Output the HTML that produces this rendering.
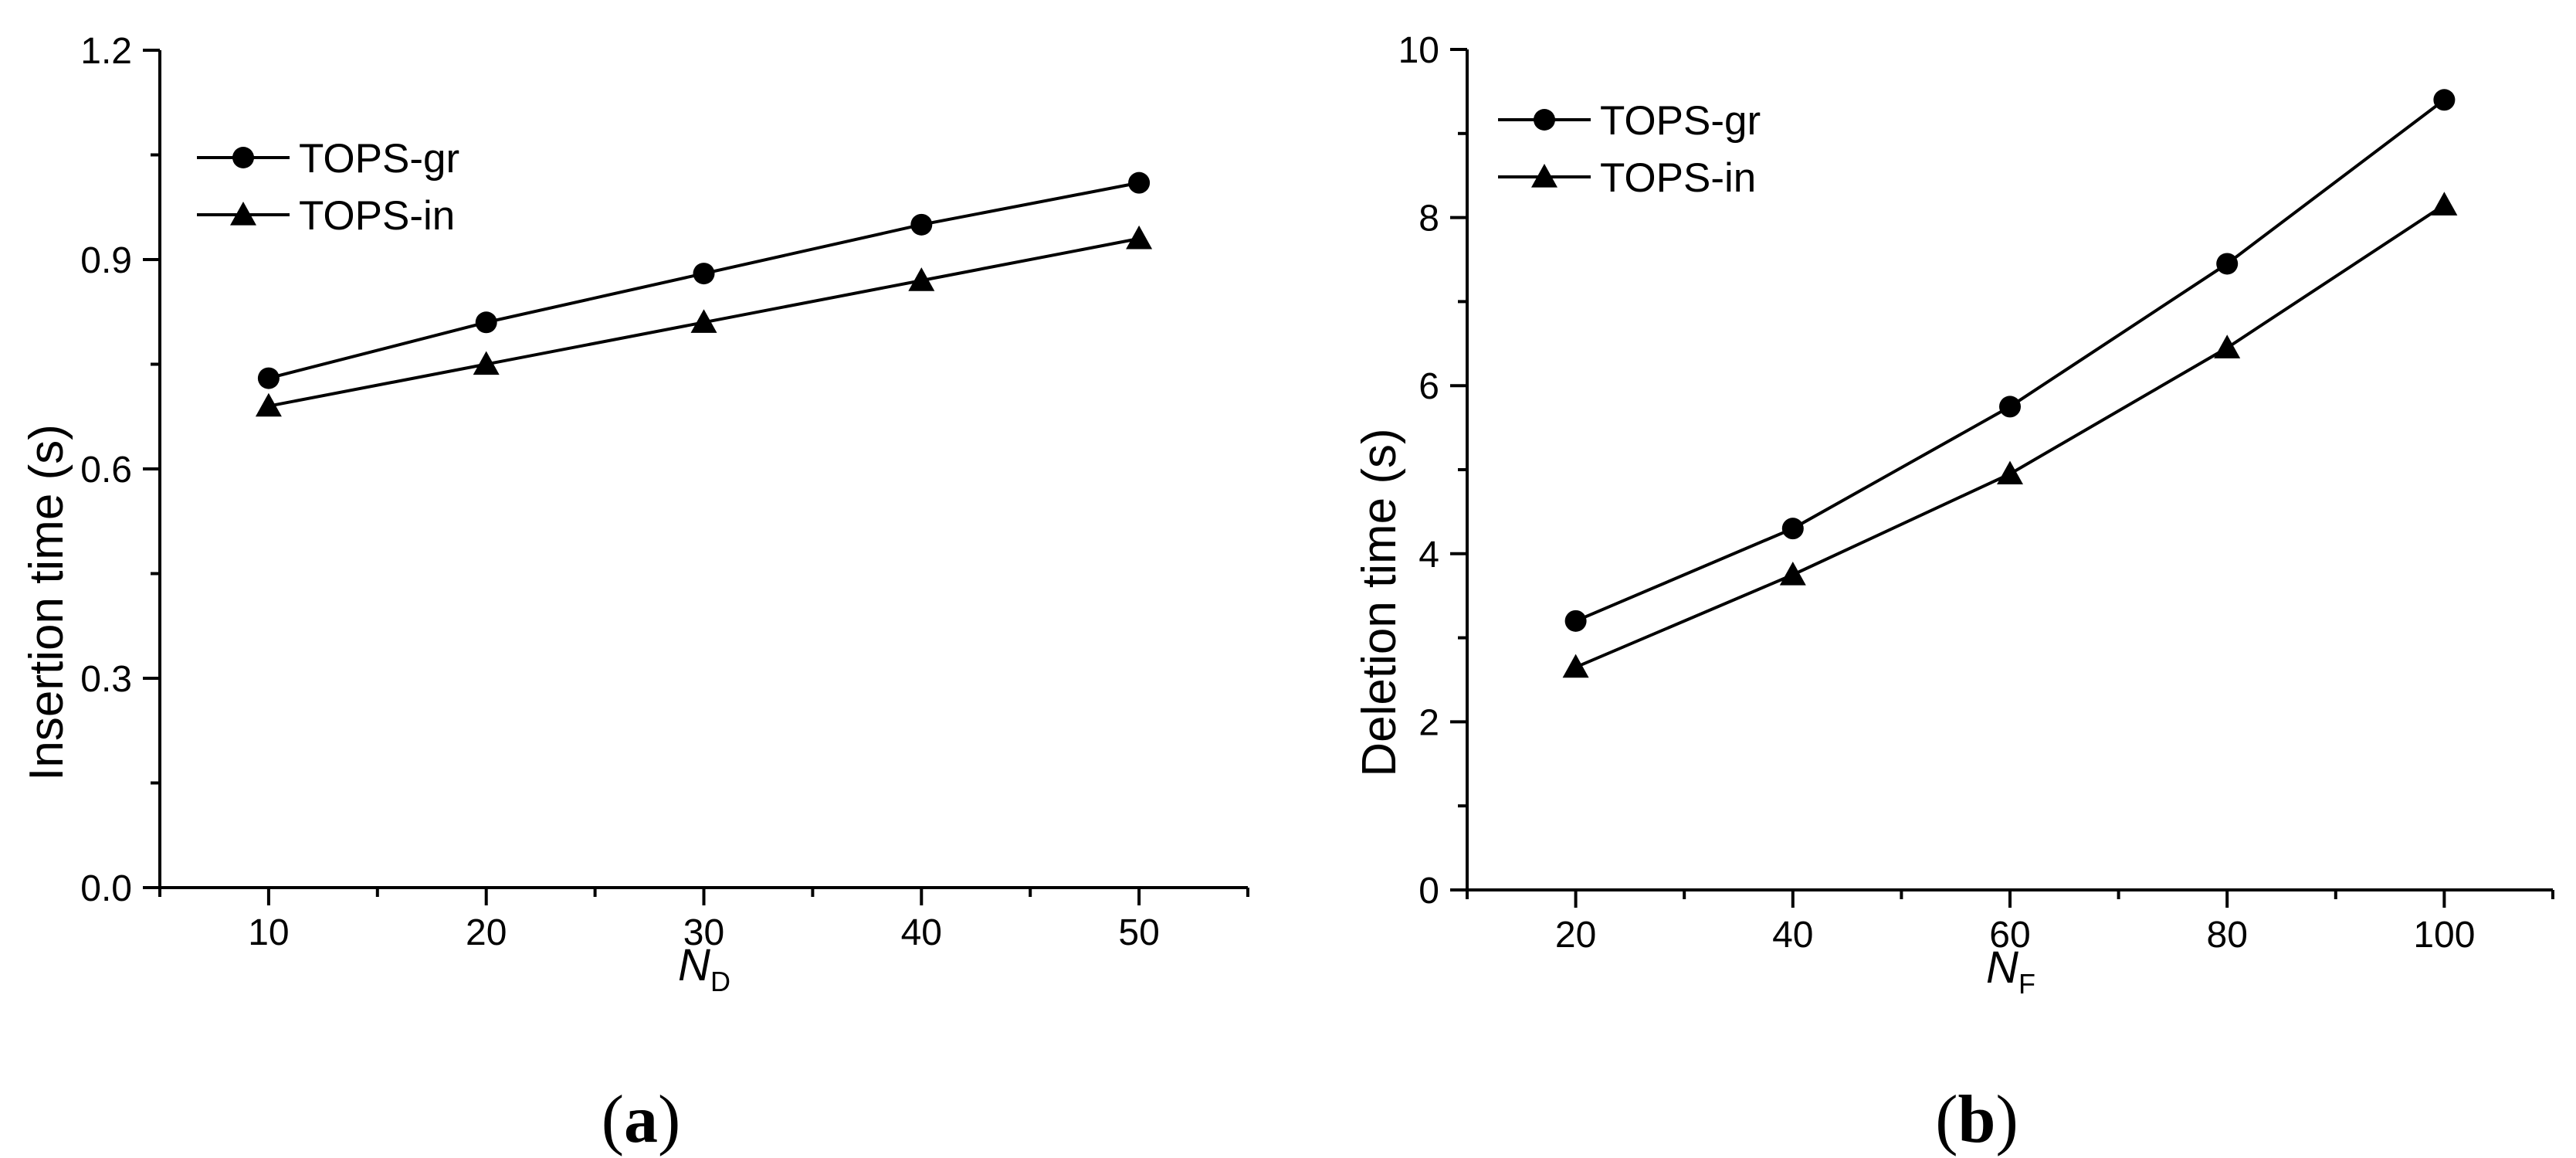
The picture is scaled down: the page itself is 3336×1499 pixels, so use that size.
<!DOCTYPE html>
<html><head><meta charset="utf-8"><style>
html,body{margin:0;padding:0;background:#fff;}
svg{display:block;}
text{font-family:"Liberation Sans",sans-serif;fill:#000;}
</style></head><body>
<svg id="fig" width="3336" height="1499" viewBox="0 0 3336 1499" xmlns="http://www.w3.org/2000/svg"></svg>
<script>
const catsA = [10, 20, 30, 40, 50];
const grA = [0.73, 0.81, 0.88, 0.95, 1.01];
const inA = [0.69, 0.75, 0.81, 0.87, 0.93];
const yTicksA = ["0.0", "0.3", "0.6", "0.9", "1.2"];
const catsB = [20, 40, 60, 80, 100];
const grB = [3.2, 4.3, 5.75, 7.45, 9.4];
const inB = [2.65, 3.75, 4.95, 6.45, 8.15];
const yTicksB = ["0", "2", "4", "6", "8", "10"];

const NS = "http://www.w3.org/2000/svg";
const svg = document.getElementById("fig");
function mk(tag, attrs, parent, txt) {
  const e = document.createElementNS(NS, tag);
  for (const k in attrs) e.setAttribute(k, attrs[k]);
  if (txt !== undefined) e.textContent = txt;
  (parent || svg).appendChild(e);
  return e;
}
function circle(g, x, y) {
  const c = mk("circle", {cx: x, cy: y, r: 14, fill: "#000"}, g);
  
  
}
function tri(g, x, y) {
  const s = 17;
  const p = mk("polygon", {points: `${x},${y-s} ${x-s},${y+s*0.8} ${x+s},${y+s*0.8}`, fill: "#000"}, g);
  
  
}
function panel(cfg) {
  const g = mk("g", {});
  
  
  const sx = v => cfg.x0 + (v - cfg.xmin) / (cfg.xmax - cfg.xmin) * (cfg.x1 - cfg.x0);
  const sy = v => cfg.y0 - (v - cfg.ymin) / (cfg.ymax - cfg.ymin) * (cfg.y0 - cfg.y1);
  const ax = mk("path", {d: `M${cfg.x0},${cfg.y1} L${cfg.x0},${cfg.y0} L${cfg.x1},${cfg.y0}`, fill: "none", stroke: "#000", "stroke-width": 4}, g);
  
  
  const ytick = mk("g", {}, g);
  
  
  cfg.yTicks.forEach((lab, i) => {
    const v = cfg.ymin + i * cfg.ystep;
    const y = sy(v);
    mk("line", {x1: cfg.x0 - 22, x2: cfg.x0, y1: y, y2: y, stroke: "#000", "stroke-width": 4}, ytick);
    if (i < cfg.yTicks.length - 1) {
      const ym = sy(v + cfg.ystep / 2);
      mk("line", {x1: cfg.x0 - 12, x2: cfg.x0, y1: ym, y2: ym, stroke: "#000", "stroke-width": 4}, ytick);
    }
    const t = mk("text", {x: cfg.x0 - 36, y: y + 17, "font-size": 48, "text-anchor": "end"}, ytick, lab);
    
    
  });
  const xtick = mk("g", {}, g);
  
  
  for (let v = cfg.xmin; v <= cfg.xmax + 1e-9; v += cfg.xstep / 2) {
    const x = sx(v);
    const major = cfg.cats.some(c => Math.abs(c - v) < 1e-9);
    mk("line", {x1: x, x2: x, y1: cfg.y0, y2: cfg.y0 + (major ? 23 : 12), stroke: "#000", "stroke-width": 4}, xtick);
  }
  cfg.cats.forEach(c => {
    const t = mk("text", {x: sx(c), y: cfg.y0 + 74, "font-size": 48, "text-anchor": "middle"}, xtick, String(c));
    
    
  });
  const xt = mk("text", {x: cfg.xtx, y: cfg.y0 + 120, "font-size": 58, "text-anchor": "middle"}, g);
  
  
  mk("tspan", {"font-style": "italic"}, xt, "N");
  mk("tspan", {"font-size": 36, dy: 14}, xt, cfg.sub);
  const yt = mk("text", {x: 0, y: 0, "font-size": 62, "text-anchor": "middle", transform: `translate(${cfg.ytx},${cfg.yty}) rotate(-90)`}, g, cfg.ytitle);
  
  
  const series = [[cfg.gr, circle, "series-tops-gr"], [cfg.inn, tri, "series-tops-in"]];
  series.forEach(([vals, m, nm]) => {
    const sg = mk("g", {}, g);
    
    
    const pts = vals.map((v, i) => `${sx(cfg.cats[i])},${sy(v)}`).join(" ");
    const pl = mk("polyline", {points: pts, fill: "none", stroke: "#000", "stroke-width": 4}, sg);
    
    
    vals.forEach((v, i) => m(sg, sx(cfg.cats[i]), sy(v)));
  });
  const lg = mk("g", {}, g);
  
  
  [["TOPS-gr", circle, cfg.ly1], ["TOPS-in", tri, cfg.ly2]].forEach(([lab, m, y]) => {
    const eg = mk("g", {}, lg);
    
    
    mk("line", {x1: cfg.lx, x2: cfg.lx + 120, y1: y, y2: y, stroke: "#000", "stroke-width": 4}, eg);
    m(eg, cfg.lx + 60, y);
    const t = mk("text", {x: cfg.lx + 132, y: y + 19, "font-size": 53}, eg, lab);
    
    
  });
  const cap = mk("text", {x: cfg.capx, y: 1478, "font-size": 88, "text-anchor": "middle", style: 'font-family:"Liberation Serif",serif'}, g);
  
  
  mk("tspan", {}, cap, "(");
  mk("tspan", {"font-weight": "bold"}, cap, cfg.cap);
  mk("tspan", {}, cap, ")");
}
panel({name: "panel-a", x0: 207, x1: 1616, y0: 1149, y1: 65, xmin: 5, xmax: 55, xstep: 10, ymin: 0, ymax: 1.2, ystep: 0.3,
  cats: catsA, gr: grA, inn: inA, yTicks: yTicksA, sub: "D", xtx: 912, ytx: 81, yty: 780, ytitle: "Insertion time (s)",
  lx: 255, ly1: 204, ly2: 278, capx: 830, cap: "a"});
panel({name: "panel-b", x0: 1900, x1: 3306, y0: 1152, y1: 64, xmin: 10, xmax: 110, xstep: 20, ymin: 0, ymax: 10, ystep: 2,
  cats: catsB, gr: grB, inn: inB, yTicks: yTicksB, sub: "F", xtx: 2604, ytx: 1807, yty: 780, ytitle: "Deletion time (s)",
  lx: 1940, ly1: 155, ly2: 229, capx: 2560, cap: "b"});
</script>
</body></html>
